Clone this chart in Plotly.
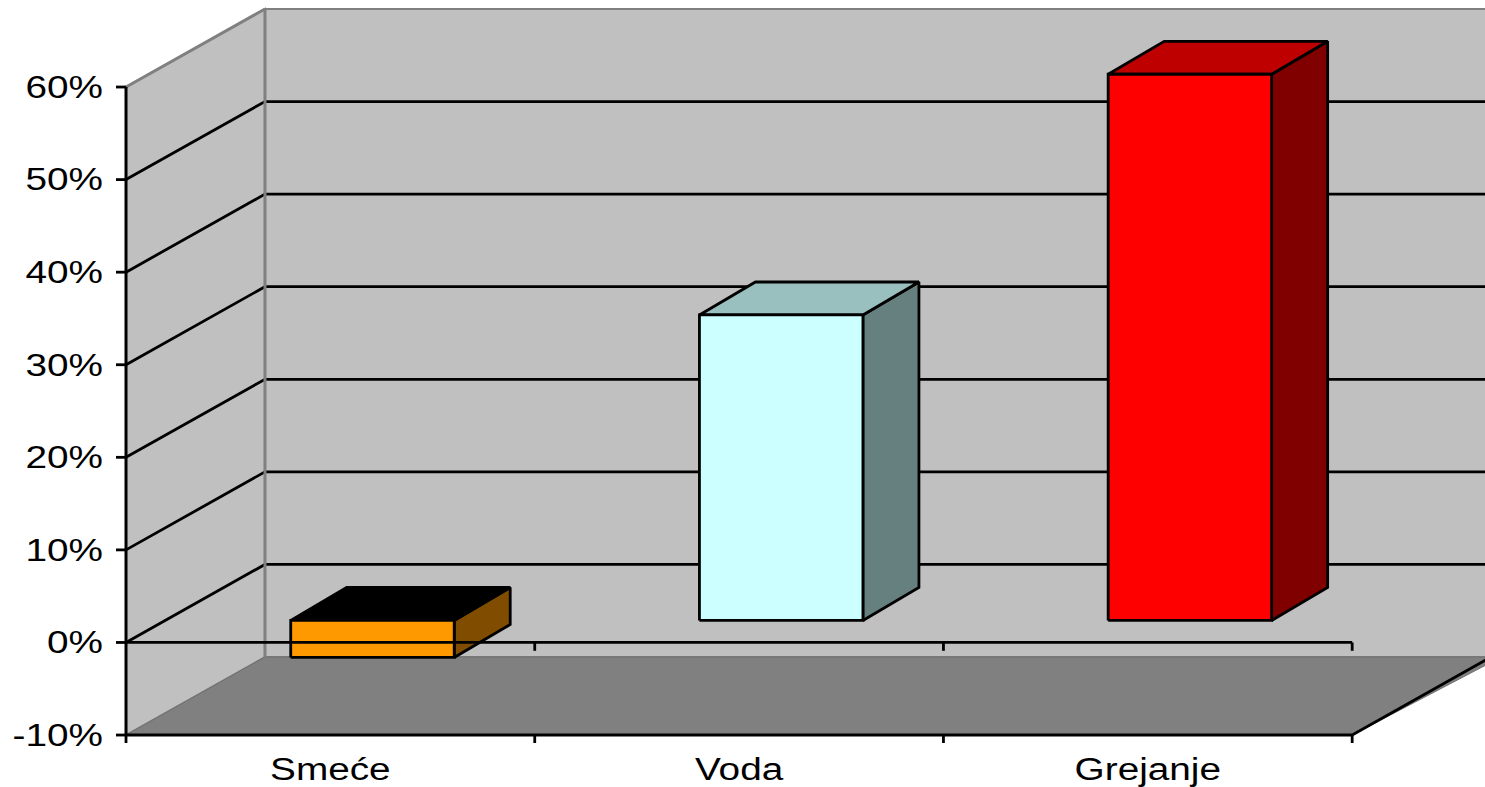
import plotly.graph_objects as go

categories = ["Smeće", "Voda", "Grejanje"]
values = [-4, 33, 59]
front_colors = ["#FF9900", "#CCFFFF", "#FF0000"]
top_colors = ["#000000", "#99BFBF", "#BF0000"]
side_colors = ["#804D00", "#668080", "#800000"]
y_ticks = [-10, 0, 10, 20, 30, 40, 50, 60]

DX, DY = 0.34, 8.43            # depth of the 3-D box, in axis units
BAR_DX, BAR_DY = 0.137, 3.56   # depth of a bar
SHIFT_X, SHIFT_Y = 0.103, 2.38 # bar row position inside the box
BAR_W = 0.4
FONT = dict(family="Liberation Sans", size=31, color="#000000")
XMIN, XMAX = -0.0245, 3.325    # plot area is widened so the hand-drawn axes are not clipped
YMIN, YMAX = -10.86, 69.4
LW = 2.8

fig = go.Figure()


def poly(xs, ys, fill, line="#000000", width=LW):
    fig.add_trace(go.Scatter(x=xs + xs[:1], y=ys + ys[:1], mode="lines", fill="toself",
                             fillcolor=fill, line=dict(color=line, width=width),
                             hoverinfo="skip", showlegend=False))


def seg(xs, ys, color="#000000", width=LW):
    fig.add_trace(go.Scatter(x=xs, y=ys, mode="lines", line=dict(color=color, width=width),
                             hoverinfo="skip", showlegend=False))


# walls and floor
poly([0, DX, DX, 0], [-10, -10 + DY, 60 + DY, 60], "#C0C0C0", "#808080", 2)
poly([DX, XMAX + 0.04, XMAX + 0.04, DX], [-10 + DY, -10 + DY, 60 + DY, 60 + DY], "#C0C0C0", "#808080", 2)
poly([0, DX, XMAX + 0.04, 3], [-10, -10 + DY, -10 + DY, -10], "#808080", "#707070", 1)
seg([3, 3 + DX], [-10, -10 + DY])

# gridlines
for v in y_ticks[1:-1]:
    seg([0, DX, XMAX + 0.04], [v, v + DY, v + DY])
seg([DX, DX], [-10 + DY, 60 + DY], "#808080", 3)
seg([0, DX], [60, 60 + DY], "#808080", 3)


def bar(i):
    v = values[i]
    x0 = i + 0.5 + SHIFT_X - BAR_W / 2
    x1 = x0 + BAR_W
    lo = min(0, v) + SHIFT_Y
    hi = max(0, v) + SHIFT_Y
    poly([x1, x1 + BAR_DX, x1 + BAR_DX, x1], [lo, lo + BAR_DY, hi + BAR_DY, hi], side_colors[i])
    poly([x0, x0 + BAR_DX, x1 + BAR_DX, x1], [hi, hi + BAR_DY, hi + BAR_DY, hi], top_colors[i])
    poly([x0, x1, x1, x0], [lo, lo, hi, hi], front_colors[i])


for i in range(len(categories)):
    bar(i)

# zero line with its small ticks, drawn over the first bar
zero_x, zero_y = [0, 3], [0, 0]
for t in (1, 2, 3):
    zero_x += [None, t, t]
    zero_y += [None, 0, -0.9]
seg(zero_x, zero_y)

# axis lines and their ticks
seg([0, 0], [-10, 60], width=3)
seg([0, 3], [-10, -10], width=3)
tx, ty = [], []
for v in y_ticks:
    tx += [XMIN, 0, None]
    ty += [v, v, None]
for t in range(4):
    tx += [t, t, None]
    ty += [YMIN, -10, None]
seg(tx, ty)

fig.add_trace(go.Scatter(x=[0.5, 1.5, 2.5], y=[None] * 3, xaxis="x2", mode="lines",
                         hoverinfo="skip", showlegend=False))

fig.update_layout(
    width=1485, height=787, autosize=False,
    margin=dict(l=116, r=0, t=0, b=44, autoexpand=False),
    paper_bgcolor="#FFFFFF", plot_bgcolor="#FFFFFF", showlegend=False,
    xaxis=dict(range=[XMIN, XMAX], showticklabels=False, ticks="", automargin=False,
               showgrid=False, zeroline=False, showline=False),
    xaxis2=dict(range=[XMIN, XMAX], overlaying="x", side="bottom", anchor="y", automargin=False,
                tickvals=[0.5, 1.5, 2.5], ticktext=categories, tickfont=FONT, ticks="",
                ticklabelstandoff=5, showgrid=False, zeroline=False, showline=False),
    yaxis=dict(range=[YMIN, YMAX], tickvals=y_ticks, ticktext=[f"{v}%" for v in y_ticks],
               automargin=False, tickfont=FONT, ticks="", ticklabelstandoff=12,
               showgrid=False, zeroline=False, showline=False),
)

# the reference's lettering is horizontally stretched: widen each label about its own anchor
post = """
document.body.style.margin = '0';
document.querySelectorAll('.main-svg text').forEach(function (t) {
  var ax = parseFloat(t.getAttribute('x')) || 0;
  var old = t.getAttribute('transform') || '';
  t.setAttribute('transform', old + ' translate(' + ax + ',0) scale(1.25,1) translate(' + (-ax) + ',0)');
});
"""
fig.write_html("out.html", post_script=post, config=dict(displayModeBar=False))
